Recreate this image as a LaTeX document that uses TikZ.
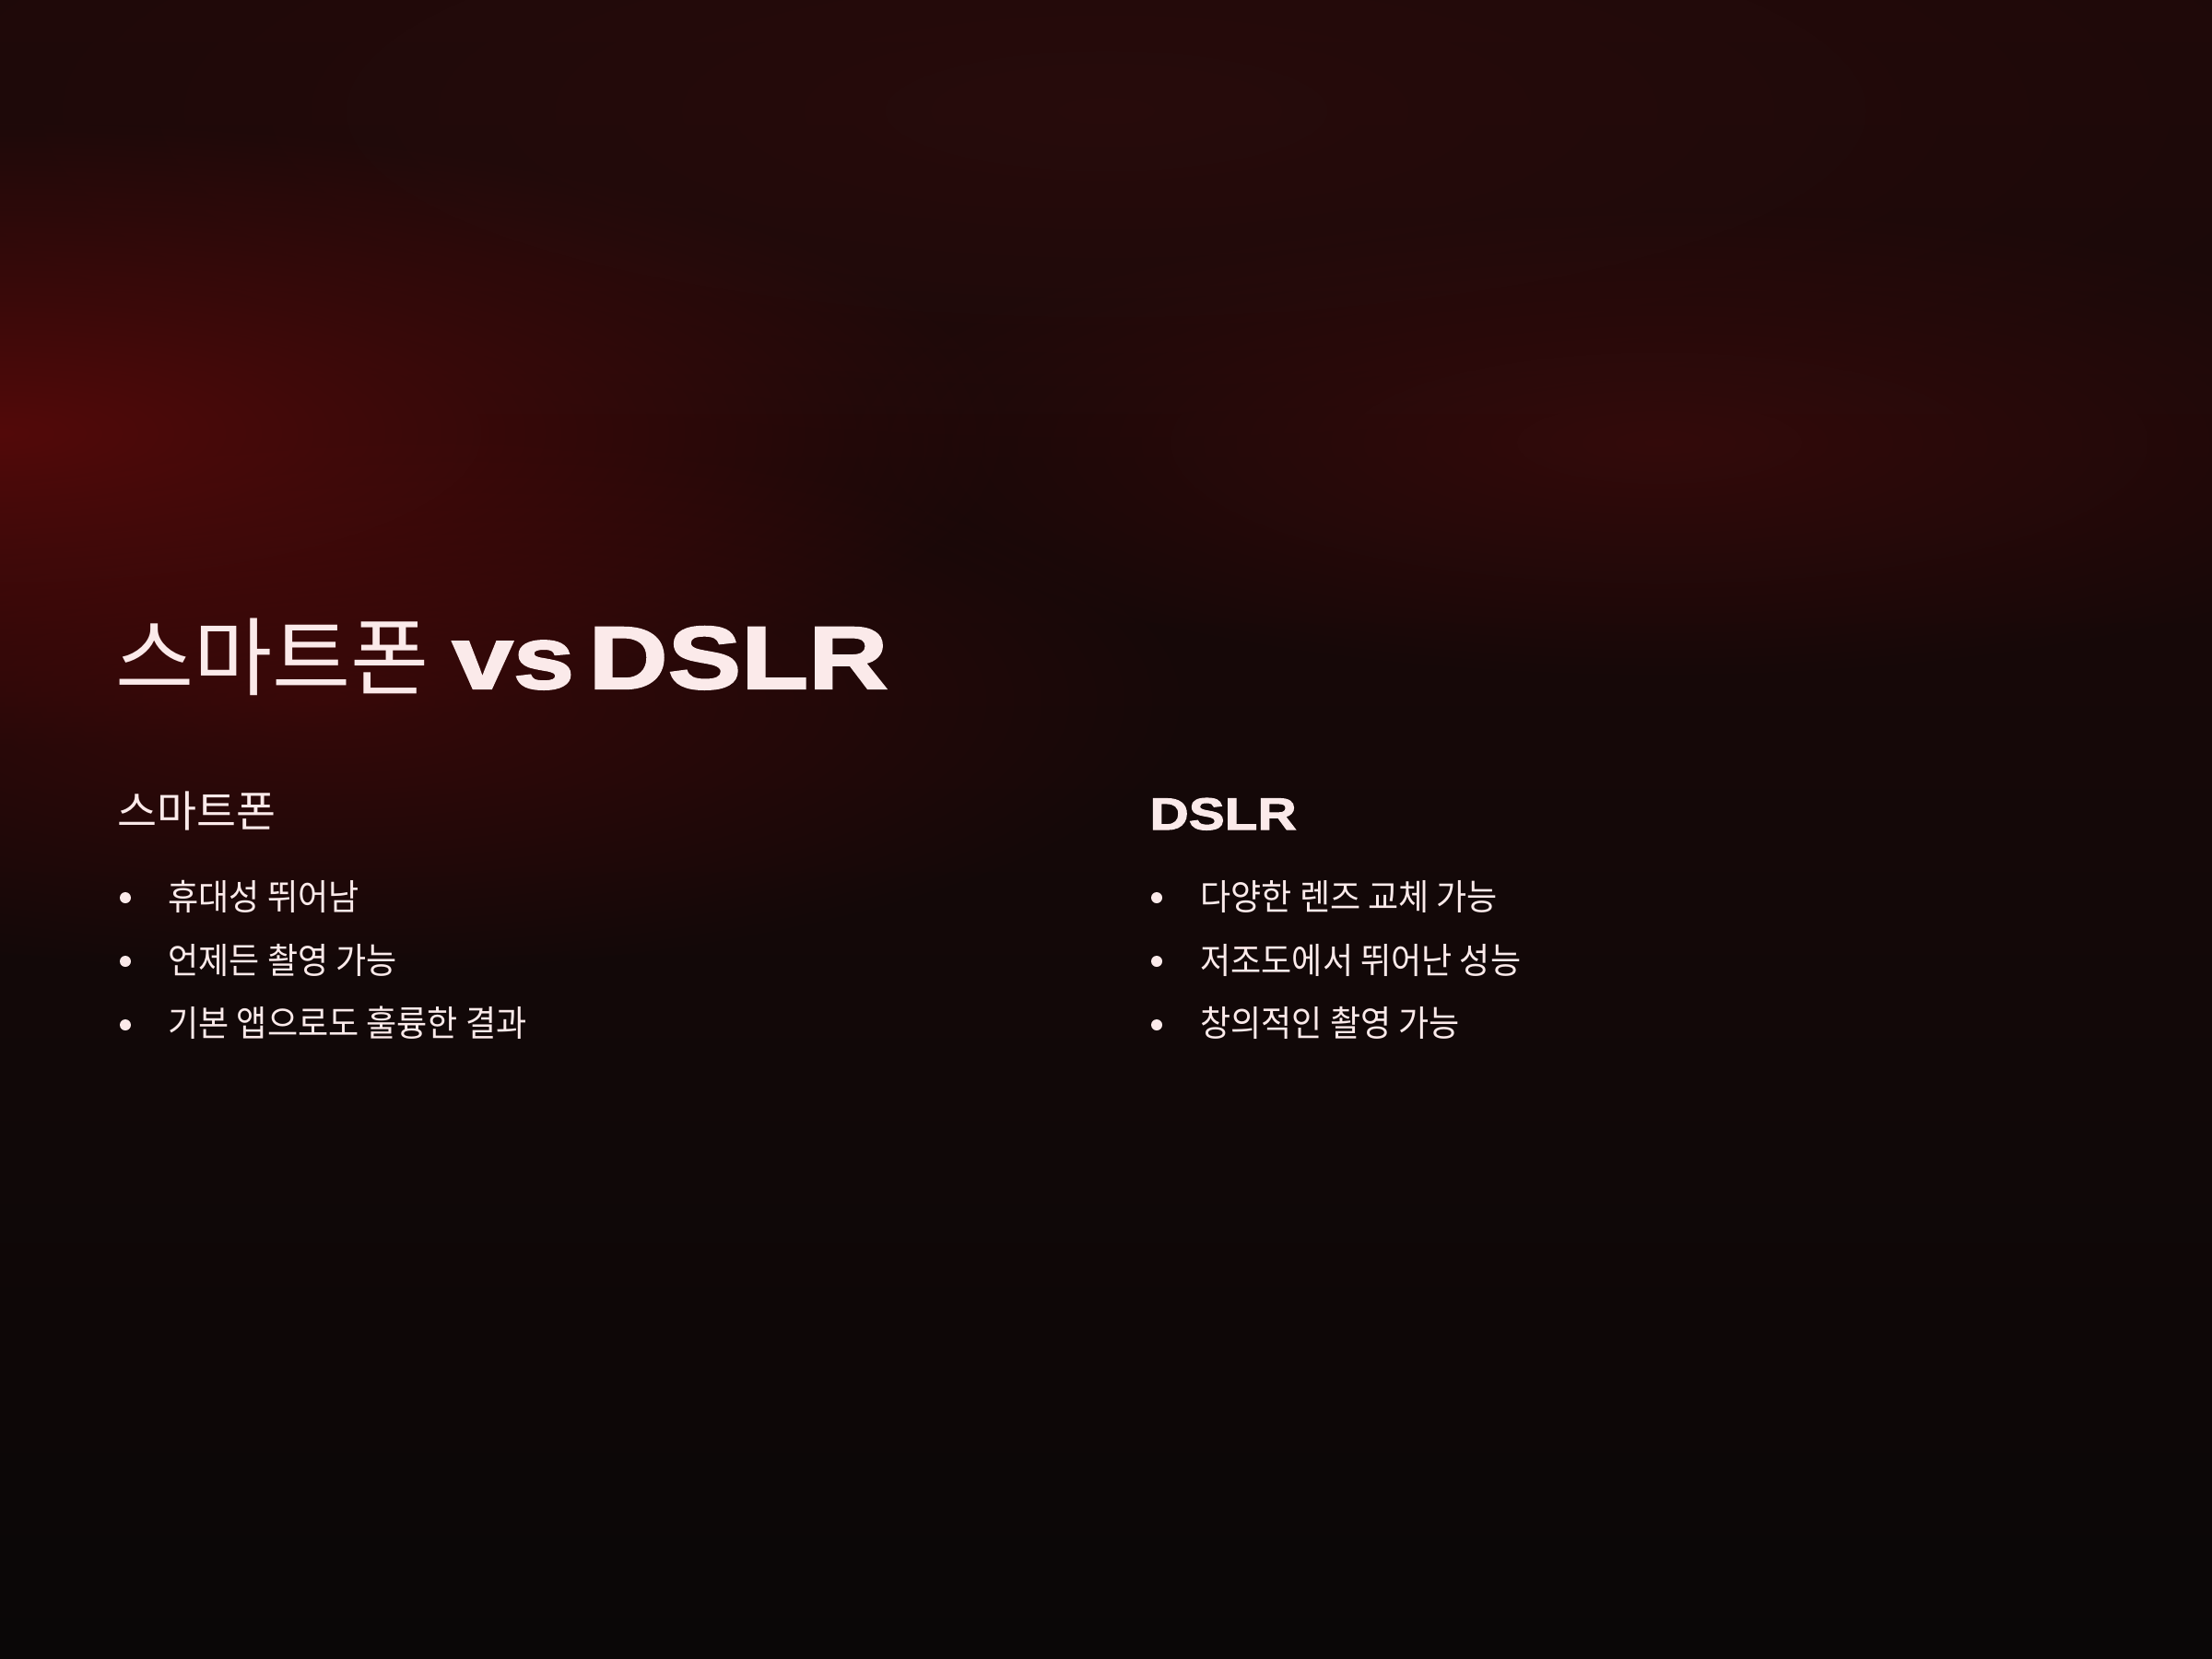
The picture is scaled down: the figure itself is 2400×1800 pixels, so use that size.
\documentclass[tikz,border=0pt]{standalone}
\usepackage{fontspec}
\usetikzlibrary{fadings}
\newfontfamily\krfont{Noto Sans CJK KR}
\newfontfamily\krnarrow[FakeStretch=0.93]{Noto Sans CJK KR}
\newfontfamily\widefont[FakeStretch=1.2,FakeBold=2.2]{Liberation Sans}
\newfontfamily\widerfont[FakeStretch=1.24,FakeBold=2.2]{Liberation Sans}
\definecolor{txt}{HTML}{FBEAEA}
\definecolor{bgtop}{HTML}{1E0909}
\definecolor{bgmid}{HTML}{110606}
\definecolor{bgbot}{HTML}{0A0707}
\definecolor{glowA}{HTML}{560A0A}
\definecolor{glowB}{HTML}{3A0B0B}
\definecolor{glowC}{HTML}{2A0C0C}
\tikzfading[name=softglow, inner color=transparent!0, outer color=transparent!100]
\begin{document}
\begin{tikzpicture}[x=0.4pt,y=-0.4pt,
  krtitle/.style={inner sep=0pt, anchor=base west, text=txt, font=\krfont\fontsize{37}{44}\selectfont},
  widetitle/.style={inner sep=0pt, anchor=base west, text=txt, font=\widerfont\bfseries\fontsize{38.5}{46}\selectfont},
  krsub/.style={inner sep=0pt, anchor=base west, text=txt, font=\krfont\fontsize{18.7}{23}\selectfont},
  widesub/.style={inner sep=0pt, anchor=base west, text=txt, font=\widefont\bfseries\fontsize{19.5}{23}\selectfont},
  item/.style={inner sep=0pt, anchor=base west, text=txt, font=\krnarrow\fontsize{15.5}{19}\selectfont},
  dot/.style={circle, fill=txt, inner sep=0pt, minimum size=4.8pt}]
\useasboundingbox (0,0) rectangle (2400,1800);
\shade[top color=bgtop, middle color=bgmid, bottom color=bgbot] (0,0) rectangle (2400,1800);
\fill[glowC, path fading=softglow, opacity=0.8] (1200,120) ellipse [x radius=1400, y radius=380];
\fill[glowB, path fading=softglow, opacity=0.8] (1800,480) ellipse [x radius=900, y radius=260];
\fill[glowA, path fading=softglow, opacity=0.95] (0,470) ellipse [x radius=1100, y radius=340];
\fill[glowA, path fading=softglow, opacity=0.5] (350,760) ellipse [x radius=950, y radius=300];
% title
\node[krtitle] (t1) at (125,747) {스마트폰};
\node[widetitle] (t2) at (490,747) {vs};
\node[widetitle] (t3) at (638,747) {DSLR};
% left column
\node[krsub] (h1) at (127,897) {스마트폰};
\node[dot] (b1) at (136,974) {};
\node[dot] (b2) at (136,1043) {};
\node[dot] (b3) at (136,1112) {};
\node[item] (l1) at (182,987) {휴대성 뛰어남};
\node[item] (l2) at (182,1056) {언제든 촬영 가능};
\node[item] (l3) at (182,1124) {기본 앱으로도 훌륭한 결과};
% right column
\node[widesub] (h2) at (1247,900) {DSLR};
\node[dot] (b4) at (1255,974) {};
\node[dot] (b5) at (1255,1043) {};
\node[dot] (b6) at (1255,1112) {};
\node[item] (r1) at (1302,987) {다양한 렌즈 교체 가능};
\node[item] (r2) at (1302,1056) {저조도에서 뛰어난 성능};
\node[item] (r3) at (1302,1124) {창의적인 촬영 가능};
\end{tikzpicture}
\end{document}
